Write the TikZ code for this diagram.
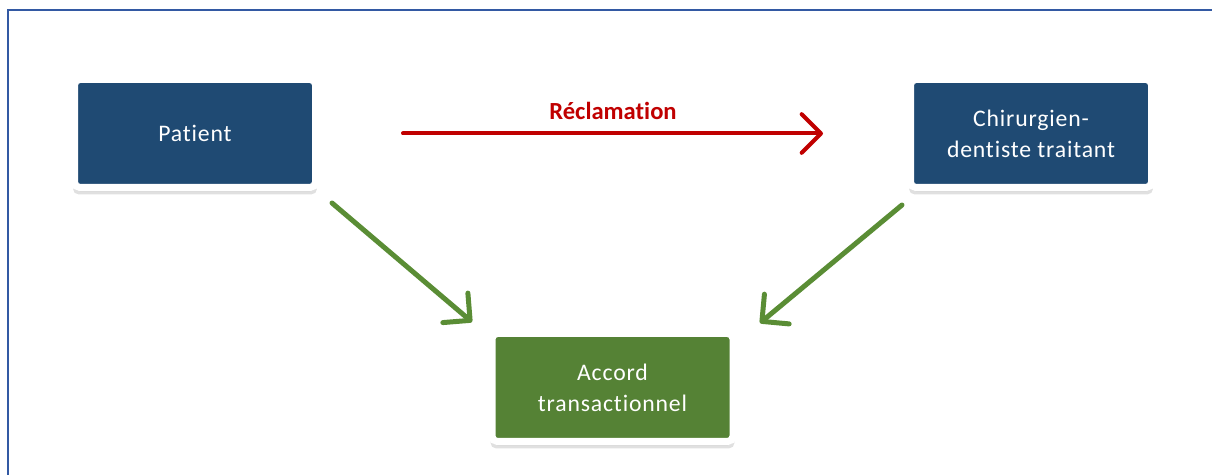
\documentclass[tikz,border=0pt]{standalone}
\usepackage{fontspec}
\setmainfont[RawFeature={-liga}]{Carlito}
\newfontfamily\boxfont[LetterSpace=3.5, RawFeature={-liga}]{Carlito}
\usetikzlibrary{arrows.meta}
\usetikzlibrary{shadows}
\definecolor{boxblue}{HTML}{1F4A73}
\definecolor{boxgreen}{HTML}{558235}
\definecolor{arrowgreen}{HTML}{5A8D35}
\definecolor{claimred}{HTML}{C00000}
\definecolor{framblue}{HTML}{3359A3}

\begin{document}
\begin{tikzpicture}[
  card/.style={rectangle, draw=white, line width=0.14cm, rounded corners=3pt,
    minimum width=4.82cm, minimum height=2.16cm, text=white, align=center,
    font=\boxfont\fontsize{13.5}{17.6}\selectfont,
    drop shadow={shadow xshift=0pt, shadow yshift=-3.5pt, shadow scale=1.012, opacity=0.12, fill=black},
    drop shadow={shadow xshift=0pt, shadow yshift=-2pt, opacity=0.14, fill=black},
    drop shadow={shadow xshift=0pt, shadow yshift=0pt, shadow scale=1.008, opacity=0.08, fill=black}},
  claimarrow/.style={draw=claimred, line width=0.08cm, line cap=round,
    -{Straight Barb[length=11pt, width=22pt, line cap=round, line join=round]}},
  settlearrow/.style={draw=arrowgreen, line width=0.1cm, line cap=round,
    -{Straight Barb[length=11pt, width=22pt, line cap=round, line join=round]}},
  claimtext/.style={font=\bfseries\fontsize{14}{16}\selectfont, text=claimred}
]
\useasboundingbox (0,0) rectangle (24.24,9.5);
\draw[framblue, line width=0.04cm] (0.16,-0.2) -- (0.16,9.3) -- (24.5,9.3);

% the three parties
\node[card, fill=boxblue] (patient) at (3.9,6.83) {Patient};
\node[card, fill=boxblue] (dentist) at (20.62,6.83) {Chirurgien-\\dentiste traitant};
\node[card, fill=boxgreen] (accord) at (12.25,1.75) {Accord\\transactionnel};

% claim
\draw[claimarrow] ([xshift=1.68cm]patient.east) -- ([xshift=-1.68cm]dentist.west)
  node[claimtext, midway, above=0.11cm] (claim) {Réclamation};

% towards the settlement
\draw[settlearrow] ([shift={(0.26,-0.24)}]patient.south east) -- ([shift={(-0.33,0.16)}]accord.north west);
\draw[settlearrow] ([shift={(-0.1,-0.28)}]dentist.south west) -- ([shift={(0.47,0.14)}]accord.north east);

\end{tikzpicture}
\end{document}
